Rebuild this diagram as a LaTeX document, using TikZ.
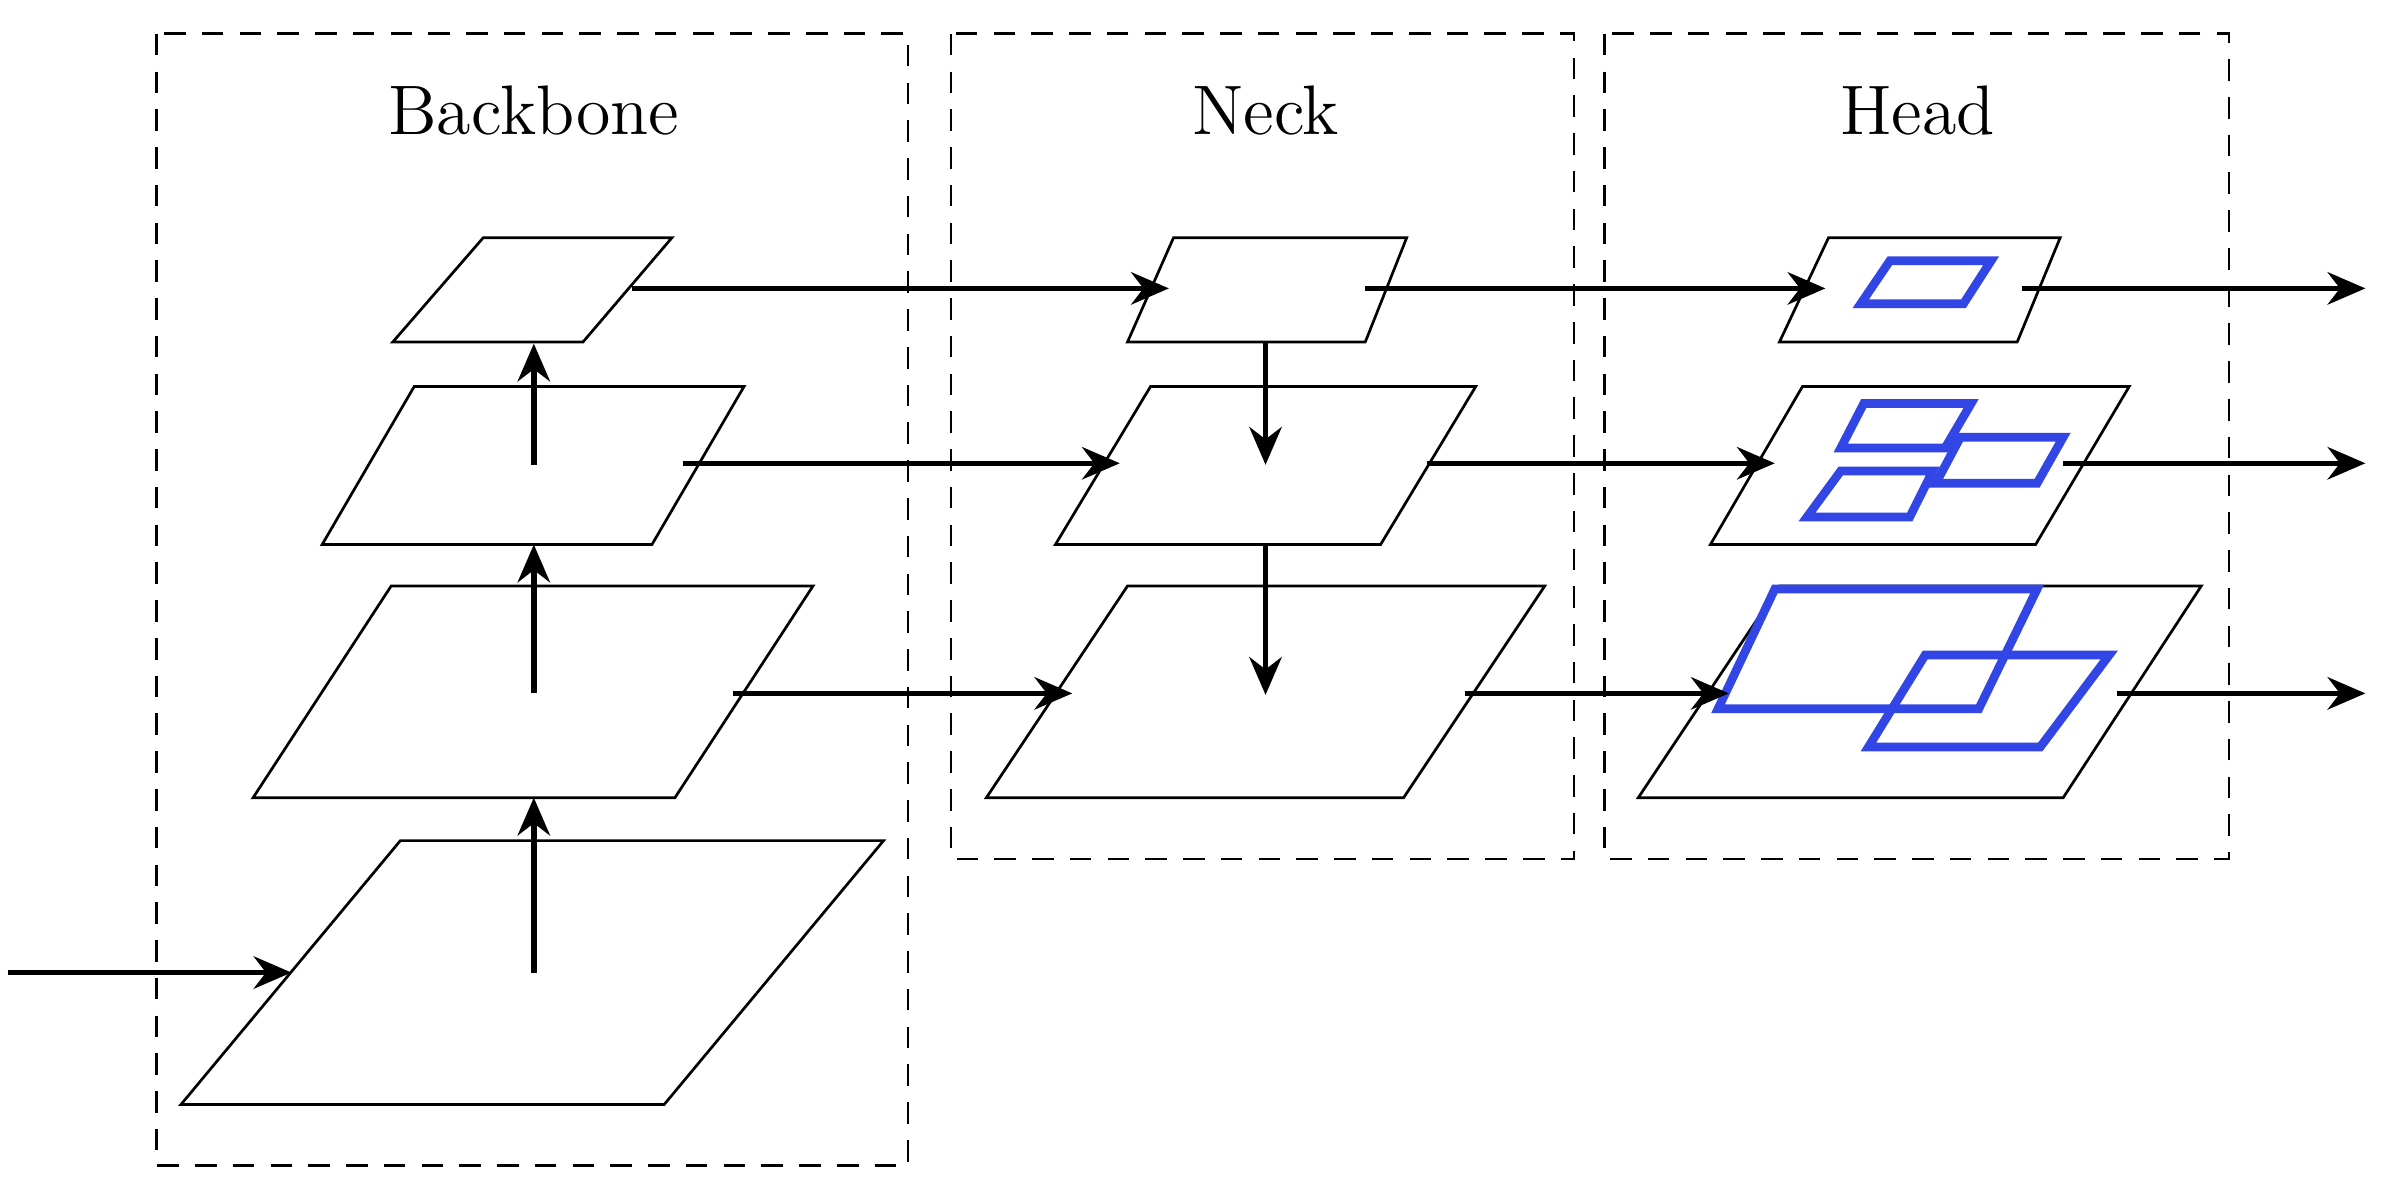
\documentclass[tikz,border=0pt]{standalone}
\usetikzlibrary{arrows.meta}
\definecolor{boxblue}{RGB}{50,70,230}
\begin{document}
\begin{tikzpicture}[x=0.01cm,y=-0.01cm,
  frame/.style={draw,dashed,line width=0.5pt,dash pattern=on 4pt off 3pt},
  plane/.style={draw,line width=0.5pt,fill=white},
  det/.style={draw=boxblue,line width=1.6pt},
  arr/.style={line width=1pt,-{Stealth[length=7pt,width=6pt]}},
  title/.style={font=\fontsize{13}{15}\selectfont}]
\useasboundingbox (0,0) rectangle (1560,775);
% frames
\draw[frame] (102,22) rectangle (592,760);
\draw[frame] (620,22) rectangle (1026,560);
\draw[frame] (1046,22) rectangle (1453,560);
\node[title] (tb) at (348,72) {Backbone};
\node[title] (tn) at (825,72) {Neck};
\node[title] (th) at (1250,72) {Head};
% backbone planes
\draw[plane] (315,155) -- (438,155) -- (380,223) -- (256,223) -- cycle;
\draw[plane] (270,252) -- (485,252) -- (425,355) -- (210,355) -- cycle;
\draw[plane] (255,382) -- (530,382) -- (440,520) -- (165,520) -- cycle;
\draw[plane] (261,548) -- (576,548) -- (433,720) -- (118,720) -- cycle;
% neck planes
\draw[plane] (765,155) -- (917,155) -- (890,223) -- (735,223) -- cycle;
\draw[plane] (750,252) -- (962,252) -- (900,355) -- (688,355) -- cycle;
\draw[plane] (735,382) -- (1007,382) -- (915,520) -- (643,520) -- cycle;
% head planes
\draw[plane] (1192,155) -- (1343,155) -- (1315,223) -- (1160,223) -- cycle;
\draw[plane] (1175,252) -- (1388,252) -- (1327,355) -- (1115,355) -- cycle;
\draw[plane] (1160,382) -- (1435,382) -- (1345,520) -- (1068,520) -- cycle;
% detections
\draw[det] (1232,170) -- (1298,170) -- (1280,198) -- (1213,198) -- cycle;
\draw[det] (1215,263) -- (1285,263) -- (1268,292) -- (1200,292) -- cycle;
\draw[det] (1278,285) -- (1345,285) -- (1328,315) -- (1262,315) -- cycle;
\draw[det] (1200,307) -- (1260,307) -- (1245,337) -- (1178,337) -- cycle;
\draw[det] (1157,384) -- (1328,384) -- (1290,462) -- (1120,462) -- cycle;
\draw[det] (1255,427) -- (1375,427) -- (1330,487) -- (1218,487) -- cycle;
% coordinates
\coordinate (in) at (5,634); \coordinate (inE) at (190,634);
\coordinate (b4) at (348,634); \coordinate (b3t) at (348,520);
\coordinate (b3) at (348,452); \coordinate (b2t) at (348,355);
\coordinate (b2) at (348,303); \coordinate (b1t) at (348,224);
\coordinate (b1o) at (412,188); \coordinate (n1i) at (762,188);
\coordinate (b2o) at (445,302); \coordinate (n2i) at (730,302);
\coordinate (b3o) at (478,452); \coordinate (n3i) at (699,452);
\coordinate (n1) at (825,223); \coordinate (n2c) at (825,303);
\coordinate (n2) at (825,355); \coordinate (n3c) at (825,453);
\coordinate (n1o) at (890,188); \coordinate (h1i) at (1190,188);
\coordinate (n2o) at (930,302); \coordinate (h2i) at (1157,302);
\coordinate (n3o) at (955,452); \coordinate (h3i) at (1127,452);
\coordinate (h1o) at (1318,188); \coordinate (o1) at (1542,188);
\coordinate (h2o) at (1345,302); \coordinate (o2) at (1542,302);
\coordinate (h3o) at (1380,452); \coordinate (o3) at (1542,452);
% arrows
\draw[arr] (in) -- (inE);
\draw[arr] (b4) -- (b3t);
\draw[arr] (b3) -- (b2t);
\draw[arr] (b2) -- (b1t);
\draw[arr] (b1o) -- (n1i);
\draw[arr] (b2o) -- (n2i);
\draw[arr] (b3o) -- (n3i);
\draw[arr] (n1) -- (n2c);
\draw[arr] (n2) -- (n3c);
\draw[arr] (n1o) -- (h1i);
\draw[arr] (n2o) -- (h2i);
\draw[arr] (n3o) -- (h3i);
\draw[arr] (h1o) -- (o1);
\draw[arr] (h2o) -- (o2);
\draw[arr] (h3o) -- (o3);
\end{tikzpicture}
\end{document}
